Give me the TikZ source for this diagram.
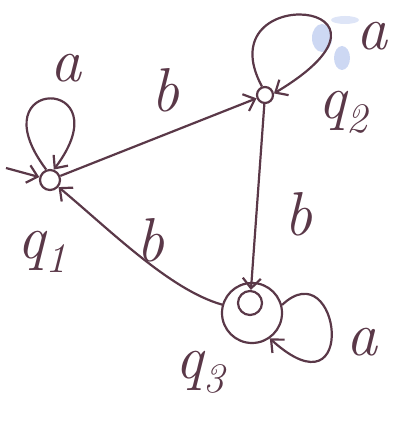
\documentclass[tikz,border=0pt]{standalone}
\usepackage{fontspec}
\usetikzlibrary{arrows.meta}
\definecolor{ink}{HTML}{5A3848}
\definecolor{smudge}{HTML}{5A7FD8}
\tikzset{
  st/.style={circle,draw=ink,line width=2.2pt,minimum size=20pt,inner sep=0pt},
  acc/.style={circle,draw=ink,line width=2.2pt,minimum size=60pt,inner sep=0pt},
  lbl/.style={text=ink,font=\fontsize{62}{62}\selectfont\itshape,inner sep=0pt},
  edge/.style={draw=ink,line width=2.2pt,-{Straight Barb[length=10pt,width=18pt]}}
}
\newcommand{\subidx}[1]{\raisebox{-14pt}{\fontsize{42}{42}\selectfont\itshape #1}}
\begin{document}
\begin{tikzpicture}[x=1pt,y=-1pt]
\useasboundingbox (0,0) rectangle (398,422);
% smudge
\fill[smudge,opacity=0.3] (322,38) ellipse (10 and 14);
\fill[smudge,opacity=0.3] (342,58) ellipse (8 and 12);
\fill[smudge,opacity=0.2] (345,20) ellipse (14 and 4);
% states
\node[st] (q1) at (50,180) {};
\node[st,minimum size=16pt] (q2) at (265,95) {};
\node[acc] (q3) at (252,313) {};
\node[circle,draw=ink,line width=2.2pt,minimum size=24pt] (q3i) at (250,303) {};
% initial arrow
\coordinate (init) at (6,168);
\draw[edge] (init) -- (q1);
% self loops
\draw[edge] (q1.110) .. controls (-25,75) and (125,75) .. (q1.70);
\draw[edge] (q2.110) .. controls (205,-20) and (430,0) .. (q2.10);
\draw[edge] (q3.15) .. controls (340,250) and (360,420) .. (q3.-55);
% transitions
\draw[edge] (q1) -- (q2);
\draw[edge] (q2) -- (q3i);
\draw[edge] (q3) .. controls (170,290) and (110,230) .. (q1);
% labels
\node[lbl] (la1) at (66,68) {a};
\node[lbl] (la2) at (372,36) {a};
\node[lbl] (la3) at (362,342) {a};
\node[lbl] (lb1) at (165,90) {b};
\node[lbl] (lb2) at (298,214) {b};
\node[lbl] (lb3) at (150,240) {b};
\node[lbl] (l1) at (42,252) {q\subidx{1}};
\node[lbl] (l2) at (343,112) {q\subidx{2}};
\node[lbl] (l3) at (200,372) {q\subidx{3}};
\end{tikzpicture}
\end{document}
